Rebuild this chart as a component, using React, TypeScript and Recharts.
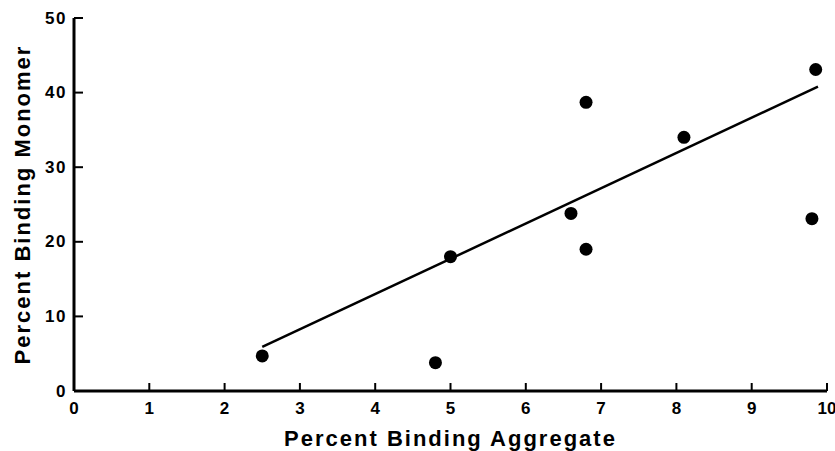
import {
  ReferenceLine,
  Scatter,
  ScatterChart,
  XAxis,
  YAxis,
} from "recharts";

// measured points (percent binding aggregate vs monomer)
const aggregate = [2.5, 4.8, 5.0, 6.6, 6.8, 6.8, 8.1, 9.85, 9.8];
const monomer = [4.7, 3.8, 18.0, 23.8, 19.0, 38.7, 34.0, 43.1, 23.1];

// fitted line endpoints
const fitX = [2.5, 9.88];
const fitY = [5.9, 40.8];

const xTicks = [0, 1, 2, 3, 4, 5, 6, 7, 8, 9, 10];
const yTicks = [0, 10, 20, 30, 40, 50];

const points = aggregate.map((x, i) => ({ x, y: monomer[i] }));
const fitSegment = fitX.map((x, i) => ({ x, y: fitY[i] }));

const FONT = "'Liberation Sans', Arial, Helvetica, sans-serif";

function XTick({ x, y, payload }: any) {
  return (
    <g>
      <line x1={x} x2={x} y1={y} y2={y - 8} stroke="#000" strokeWidth={2} />
      <text
        x={x}
        y={y + 17}
        textAnchor="middle"
        dominantBaseline="central"
        fontFamily={FONT}
        fontWeight="bold"
        fontSize={17}
        fill="#000"
      >
        {payload.value}
      </text>
    </g>
  );
}

function YTick({ x, y, payload }: any) {
  return (
    <g>
      <line x1={x} x2={x + 9} y1={y} y2={y} stroke="#000" strokeWidth={2} />
      <text
        x={x - 7}
        y={y}
        textAnchor="end"
        dominantBaseline="central"
        fontFamily={FONT}
        fontWeight="bold"
        fontSize={17}
        letterSpacing={1.5}
        fill="#000"
      >
        {payload.value}
      </text>
    </g>
  );
}

const Dot = (props: any) => <circle cx={props.cx} cy={props.cy} r={6.5} fill="#000" />;

const titleStyle = {
  fontFamily: FONT,
  fontWeight: "bold",
  fontSize: 22,
  letterSpacing: 2,
  fill: "#000",
};

export default function App() {
  return (
    <div style={{ position: "absolute", left: 0, top: 0, background: "#fff" }}>
      <ScatterChart
        width={835}
        height={451}
        margin={{ top: 18, right: 8, left: 0, bottom: 0 }}
      >
        <XAxis
          type="number"
          dataKey="x"
          domain={[0, 10]}
          ticks={xTicks}
          height={60}
          tickSize={0}
          tickMargin={0}
          tickLine={false}
          tick={<XTick />}
          axisLine={{ stroke: "#000", strokeWidth: 3 }}
          label={{
            value: "Percent Binding Aggregate",
            position: "insideBottom",
            offset: 5,
            style: titleStyle,
          }}
        />
        <YAxis
          type="number"
          dataKey="y"
          domain={[0, 50]}
          ticks={yTicks}
          width={74}
          tickSize={0}
          tickMargin={0}
          tickLine={false}
          tick={<YTick />}
          axisLine={{ stroke: "#000", strokeWidth: 3 }}
          label={{
            value: "Percent Binding Monomer",
            angle: -90,
            position: "insideLeft",
            offset: 22,
            style: { ...titleStyle, textAnchor: "middle" },
          }}
        />
        <ReferenceLine
          segment={fitSegment}
          stroke="#000"
          strokeWidth={2.5}
        />
        <Scatter data={points} shape={<Dot />} isAnimationActive={false} />
      </ScatterChart>
    </div>
  );
}
